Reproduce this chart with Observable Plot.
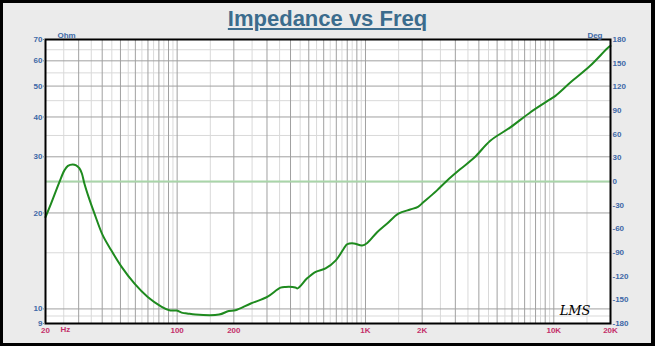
<!DOCTYPE html>
<html>
<head>
<meta charset="utf-8">
<script src="https://cdn.jsdelivr.net/npm/d3@7"></script>
<script src="https://cdn.jsdelivr.net/npm/@observablehq/plot@0.6"></script>
<style>
  html, body { margin: 0; padding: 0; background: #ffffff; }
  #page { position: relative; width: 655px; height: 351px; overflow: hidden; background: #ffffff; }
  #bg { position: absolute; left: 0; top: 0; width: 655px; height: 346px; background: #ebebeb;
        box-sizing: border-box; border-left: 3px solid #000; border-top: 3px solid #000; border-right: 4px solid #000; border-bottom: 3px solid #000; }
  #chart { position: absolute; left: 0; top: 0; }
  #title { position: absolute; left: 0; top: 8px; width: 655px; text-align: center;
           font: bold 22px/22px 'Liberation Sans', Arial, sans-serif; color: #3b6c8d;
           text-decoration: underline; text-decoration-thickness: 2px; text-underline-offset: 2px; z-index: 2; }
</style>
</head>
<body>
<div id="page"><div id="bg"></div><div id="chart"></div><div id="title">Impedance vs Freq</div></div>
<script>
// Impedance curve
const freq = [20, 21.4, 23.7, 25.2, 26.3, 27.9, 29.1, 30.3, 31.2, 32.2, 34, 36.4, 40.3, 44.6, 50.5, 59.4, 69.8, 82.4, 91, 99.6,
  107, 113, 125, 167, 188, 204, 246, 301, 354, 377, 424, 436, 490, 544, 614, 696, 786, 802, 868, 960,
  1022, 1153, 1300, 1496, 1728, 1900, 2028, 2390, 2700, 3180, 3800, 4600, 5880, 7520, 9600, 10200, 12240, 15600, 19580, 20000];
const ohm = [19.4, 21.4, 25.0, 27.2, 28.1, 28.4, 28.2, 27.6, 26.6, 24.7, 22.3, 19.9, 17.0, 15.3, 13.6, 12.0, 10.9, 10.17, 9.9, 9.88,
  9.72, 9.68, 9.6, 9.6, 9.85, 9.9, 10.4, 10.9, 11.66, 11.72, 11.68, 11.6, 12.47, 13.07, 13.4, 14.2, 15.8, 15.97, 16.05, 15.8,
  16.1, 17.4, 18.5, 19.9, 20.5, 20.9, 21.6, 23.5, 25.2, 27.4, 29.9, 33.7, 37.1, 41.4, 45.5, 46.6, 51.3, 57.9, 66.3, 66.8];

// Axes
const xTicks = [20, 50, 100, 200, 500, 1000, 2000, 5000, 10000, 20000];
const xTickLabels = ["20", "50", "100", "200", "500", "1K", "2K", "5K", "10K", "20K"];
const yTicks = [9, 10, 20, 30, 40, 50, 60, 70];
const degTicks = [-180, -150, -120, -90, -60, -30, 0, 30, 60, 90, 120, 150, 180];
const yGridMajor = [10, 20, 30, 40, 50, 60];
const yGridMinor = [9.5, 15, 25, 35, 45, 55, 65];
const phaseZero = [0];

const Y0 = 9, Y1 = 70;
const degToOhm = d => Y0 * Math.pow(Y1 / Y0, (d + 180) / 360);

// vertical grid: whole units of each decade (dark), half units (light)
const xGridMajor = [], xGridMinor = [];
for (const dec of [10, 100, 1000, 10000]) {
  for (let k = 1; k <= 9; k++) {
    const v = k * dec;
    if (v > 20 && v < 20000) xGridMajor.push(v);
    const h = (k + 0.5) * dec;
    if (h > 20 && h < 20000) xGridMinor.push(h);
  }
}

const data = freq.map((f, i) => ({f, z: ohm[i]}));
const blue = "#3d68a6", red = "#c4306a";

const chart = Plot.plot({
  width: 655,
  height: 351,
  marginLeft: 45,
  marginRight: 45,
  marginTop: 39,
  marginBottom: 28,
  style: {background: "transparent", fontFamily: "'Liberation Sans', Arial, sans-serif"},
  x: {type: "log", domain: [20, 20000], axis: null},
  y: {type: "log", domain: [Y0, Y1], axis: null},
  marks: [
    Plot.frame({fill: "white", stroke: null}),
    Plot.gridX(xGridMinor, {stroke: "#d9d9d9", strokeOpacity: 1}),
    Plot.gridY(yGridMinor, {stroke: "#d9d9d9", strokeOpacity: 1}),
    Plot.gridX(xGridMajor, {stroke: "#a0a0a0", strokeOpacity: 1}),
    Plot.gridY(yGridMajor, {stroke: "#a0a0a0", strokeOpacity: 1}),
    Plot.ruleY(phaseZero, {y: d => degToOhm(d), stroke: "#a9d5a9", strokeWidth: 2}),
    Plot.line(data, {x: "f", y: "z", stroke: "#1e8a1e", strokeWidth: 2, curve: "catmull-rom"}),
    Plot.frame({stroke: "#000", strokeWidth: 2}),
    Plot.axisX(xTicks, {anchor: "bottom", tickSize: 0, tickPadding: 4, label: null,
      tickFormat: d => xTickLabels[xTicks.indexOf(d)], fill: red, fontWeight: "bold", fontSize: 8}),
    Plot.axisY(yTicks, {anchor: "left", tickSize: 2, tickPadding: 1, label: null, stroke: "#888",
      tickFormat: d => String(d), fill: blue, fontWeight: "bold", fontSize: 8}),
    Plot.text(degTicks, {y: d => degToOhm(d), frameAnchor: "right", textAnchor: "start", dx: 2,
      text: d => String(d), fill: blue, fontWeight: "bold", fontSize: 8}),
    Plot.text(["Hz"], {frameAnchor: "bottom-left", dx: 15, dy: 8.5, fill: red, fontWeight: "bold", fontSize: 8}),
    Plot.text(["Ohm"], {frameAnchor: "top-left", dx: 12, dy: -7, fill: blue, fontWeight: "bold", fontSize: 8}),
    Plot.text(["Deg"], {frameAnchor: "top-right", dx: -8, dy: -7, fill: blue, fontWeight: "bold", fontSize: 8}),
    Plot.text(["LMS"], {frameAnchor: "bottom-right", dx: -20, dy: -9, fill: "#000", fontSize: 13,
      fontStyle: "italic", fontFamily: "'DejaVu Serif', serif"})
  ]
});

document.getElementById("chart").appendChild(chart);
</script>
</body>
</html>
